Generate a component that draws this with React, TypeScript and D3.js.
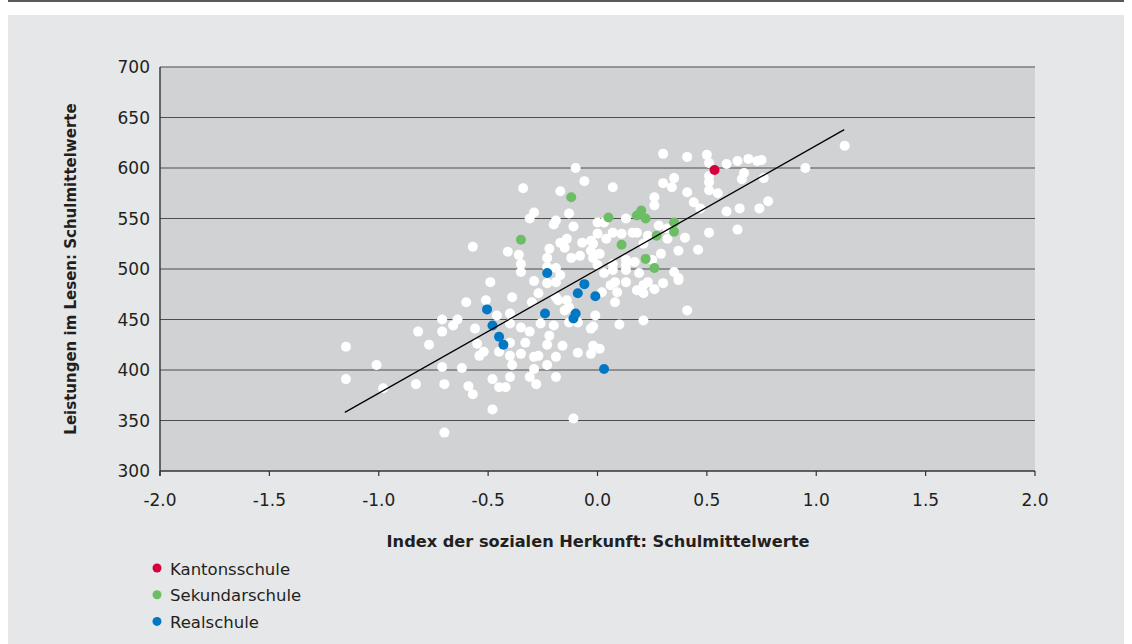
import React from "react";
import * as d3 from "d3";

const xTicks = [-2.0, -1.5, -1.0, -0.5, 0.0, 0.5, 1.0, 1.5, 2.0];
const yTicks = [300, 350, 400, 450, 500, 550, 600, 650, 700];

const xTitle = "Index der sozialen Herkunft: Schulmittelwerte";
const yTitle = "Leistungen im Lesen: Schulmittelwerte";

const legendLabels = ["Kantonsschule", "Sekundarschule", "Realschule"];

// [index, reading score]
const kantonsschule: [number, number][] = [[0.535, 598]];

const sekundarschule: [number, number][] = [
  [-0.12, 571], [0.05, 551], [0.18, 553], [0.2, 558], [0.22, 550], [-0.35, 529],
  [0.11, 524], [0.35, 546], [0.35, 537], [0.27, 533], [0.22, 510], [0.26, 501],
];

const realschule: [number, number][] = [
  [-0.505, 460], [-0.48, 444], [-0.45, 433], [-0.43, 425], [-0.23, 496], [-0.24, 456],
  [-0.06, 485], [-0.09, 476], [-0.01, 473], [-0.1, 456], [-0.11, 451], [0.03, 401],
];

const otherSchools: [number, number][] = [
  [-1.15, 423], [-1.15, 391], [-1.01, 405], [-0.98, 382], [-0.83, 386], [-0.82, 438],
  [-0.77, 425], [-0.71, 450], [-0.64, 450], [-0.66, 444], [-0.71, 438], [-0.71, 403],
  [-0.62, 402], [-0.7, 386], [-0.59, 384], [-0.57, 376], [-0.7, 338], [-0.48, 361],
  [-0.6, 467], [-0.51, 469], [-0.49, 487], [-0.55, 426], [-0.54, 414], [-0.52, 418],
  [-0.45, 418], [-0.46, 454], [-0.4, 456], [-0.39, 472], [-0.4, 414], [-0.39, 405],
  [-0.35, 416], [-0.29, 413], [-0.27, 414], [-0.19, 413], [-0.29, 401], [-0.23, 405],
  [-0.19, 393], [-0.48, 391], [-0.4, 393], [-0.45, 383], [-0.42, 383], [-0.31, 393],
  [-0.28, 386], [-0.29, 488], [-0.23, 486], [-0.19, 487], [-0.3, 467], [-0.27, 476],
  [-0.19, 472], [-0.18, 469], [-0.14, 469], [-0.13, 462], [-0.4, 446], [-0.35, 442],
  [-0.31, 438], [-0.26, 446], [-0.2, 444], [-0.22, 434], [-0.56, 441], [-0.11, 352],
  [-0.15, 459], [-0.16, 424], [-0.09, 417], [-0.03, 416], [-0.02, 424], [0.01, 421],
  [-0.13, 447], [-0.09, 447], [-0.03, 441], [-0.01, 454], [0.1, 445], [0.21, 449],
  [0.02, 477], [0.06, 484], [0.08, 487], [0.13, 487], [0.09, 477], [0.08, 467],
  [0.21, 476], [0.26, 480], [0.3, 486], [0.37, 489], [0.21, 484], [0.23, 487],
  [0.41, 459], [-0.02, 443], [0.18, 479],
  [-0.1, 600], [-0.06, 587], [0.07, 581], [-0.34, 580], [-0.17, 577], [-0.29, 556],
  [-0.31, 550], [-0.13, 555], [-0.19, 548], [-0.2, 544], [-0.11, 542], [0.0, 546],
  [0.13, 550], [-0.57, 522], [-0.41, 517], [-0.36, 514], [-0.35, 505], [-0.35, 497],
  [-0.22, 520], [-0.23, 511], [-0.17, 526], [-0.14, 530], [-0.15, 521], [-0.07, 526],
  [-0.02, 525], [0.0, 535], [0.04, 530], [0.07, 536], [0.11, 535], [0.16, 536],
  [-0.12, 511], [-0.08, 513], [-0.03, 518], [-0.02, 511], [0.01, 515], [0.07, 505],
  [0.13, 504], [0.17, 507], [-0.17, 494], [-0.19, 501], [0.03, 546],
  [0.3, 614], [0.41, 611], [0.5, 613], [0.51, 605], [0.59, 604], [0.64, 607],
  [0.69, 609], [0.73, 607], [0.3, 585], [0.35, 590], [0.34, 581], [0.51, 586],
  [0.51, 578], [0.55, 575], [0.67, 595], [0.66, 589], [0.41, 576], [0.44, 566],
  [0.26, 571], [0.26, 563], [0.47, 560], [0.59, 557], [0.65, 560], [0.32, 540],
  [0.28, 543], [0.51, 536], [0.64, 539], [0.4, 531], [0.32, 530], [0.18, 536],
  [0.23, 533], [0.21, 525], [0.37, 518], [0.46, 519], [0.29, 515], [0.25, 509],
  [0.13, 509], [0.0, 504], [0.07, 499], [0.03, 496], [0.35, 497], [0.37, 491],
  [0.19, 496], [0.51, 592], [0.74, 560], [0.78, 567], [0.76, 590], [0.95, 600],
  [1.13, 622], [0.75, 608],
  [0.13, 499], [-0.4, 427], [-0.33, 427], [-0.23, 425], [-0.23, 502], [-0.03, 528],
];

// regression line endpoints
const trendX = [-1.155, 1.128];
const trendY = [358, 638];

const W = 1132;
const H = 644;
const FONT = "'DejaVu Sans', sans-serif";

export default function App() {
  const left = 160, right = 1035, top = 67, bottom = 471;
  const x = d3.scaleLinear().domain([-2, 2]).range([left, right]);
  const y = d3.scaleLinear().domain([300, 700]).range([bottom, top]);
  const line = d3.line<number>().x((d) => x(trendX[d])).y((d) => y(trendY[d]));

  const colors = { k: "#d6003c", s: "#6cbe64", r: "#0078c4" };
  const r = 5;

  return (
    <svg
      width={W}
      height={H}
      style={{ position: "absolute", left: 0, top: 0, fontFamily: FONT }}
    >
      <rect x={0} y={0} width={W} height={H} fill="#ffffff" />
      <rect x={8} y={0} width={W - 16} height={2} fill="#58595b" />
      <rect x={8} y={15} width={W - 16} height={H - 15} fill="#e6e7e9" />
      <rect x={left} y={top} width={right - left} height={bottom - top} fill="#d1d2d4" />
      {yTicks.slice(1).map((t) => (
        <line key={t} x1={left} x2={right} y1={y(t)} y2={y(t)} stroke="#4d4d4f" strokeWidth={1.2} />
      ))}
      <line x1={left} x2={left} y1={top} y2={bottom + 5} stroke="#333" strokeWidth={1.4} />
      <line x1={left} x2={right} y1={bottom} y2={bottom} stroke="#333" strokeWidth={1.4} />
      {xTicks.map((t) => (
        <line key={t} x1={x(t)} x2={x(t)} y1={bottom} y2={bottom + 5} stroke="#333" strokeWidth={1.2} />
      ))}
      {xTicks.map((t) => (
        <text key={t} x={x(t)} y={bottom + 35} textAnchor="middle" fontSize={17} fill="#231f20">
          {t.toFixed(1)}
        </text>
      ))}
      {yTicks.map((t) => (
        <text key={t} x={left - 10} y={y(t) + 6} textAnchor="end" fontSize={17} fill="#231f20">
          {t}
        </text>
      ))}
      <text x={598} y={547} textAnchor="middle" fontSize={16.2} fontWeight="bold" fill="#231f20">
        {xTitle}
      </text>
      <text
        transform={`translate(76, ${(top + bottom) / 2}) rotate(-90)`}
        textAnchor="middle"
        fontSize={15}
        fontWeight="bold"
        fill="#231f20"
      >
        {yTitle}
      </text>

      {otherSchools.map((d, i) => (
        <circle key={"w" + i} cx={x(d[0])} cy={y(d[1])} r={r} fill="#ffffff" />
      ))}
      {sekundarschule.map((d, i) => (
        <circle key={"s" + i} cx={x(d[0])} cy={y(d[1])} r={r} fill={colors.s} />
      ))}
      {realschule.map((d, i) => (
        <circle key={"b" + i} cx={x(d[0])} cy={y(d[1])} r={r} fill={colors.r} />
      ))}
      {kantonsschule.map((d, i) => (
        <circle key={"k" + i} cx={x(d[0])} cy={y(d[1])} r={r} fill={colors.k} />
      ))}
      <path d={line([0, 1]) || ""} stroke="#000" strokeWidth={1.3} fill="none" />

      {legendLabels.map((lab, i) => (
        <g key={lab} transform={`translate(157, ${568 + i * 26.7})`}>
          <circle cx={0} cy={0} r={4.5} fill={[colors.k, colors.s, colors.r][i]} />
          <text x={13} y={6.5} fontSize={16.5} fill="#231f20">
            {lab}
          </text>
        </g>
      ))}
    </svg>
  );
}
